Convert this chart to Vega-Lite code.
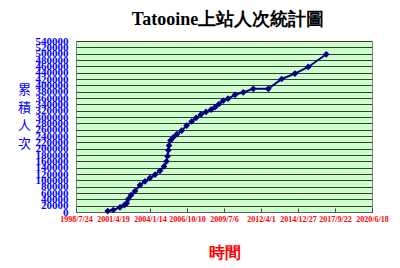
{
  "$schema": "https://vega.github.io/schema/vega-lite/v6.json",
  "autosize": {"type": "none"},
  "padding": {"left": 76, "top": 41, "right": 28, "bottom": 56},
  "width": 296,
  "height": 171,
  "background": "#ffffff",
  "title": {
    "text": "Tatooine上站人次統計圖",
    "font": "Liberation Serif",
    "fontSize": 18,
    "fontWeight": "bold",
    "color": "#000000",
    "anchor": "middle",
    "offset": 6,
    "dx": 4
  },
  "config": {
    "view": {"fill": "#ccffcc", "stroke": "#808080", "strokeWidth": 1}
  },
  "data": {
    "values": [
      {"date": "2000-11-27", "count": 3000},
      {"date": "2001-04-27", "count": 6300},
      {"date": "2001-10-25", "count": 14800},
      {"date": "2002-02-19", "count": 22000},
      {"date": "2002-04-24", "count": 28000},
      {"date": "2002-06-07", "count": 41000},
      {"date": "2002-08-19", "count": 53000},
      {"date": "2002-12-05", "count": 66000},
      {"date": "2003-04-19", "count": 85000},
      {"date": "2003-09-01", "count": 97000},
      {"date": "2004-01-14", "count": 108000},
      {"date": "2004-05-28", "count": 118000},
      {"date": "2004-10-10", "count": 130000},
      {"date": "2005-01-26", "count": 144000},
      {"date": "2005-04-04", "count": 160000},
      {"date": "2005-05-01", "count": 176000},
      {"date": "2005-05-23", "count": 195000},
      {"date": "2005-06-11", "count": 210000},
      {"date": "2005-07-21", "count": 226000},
      {"date": "2005-10-05", "count": 236000},
      {"date": "2006-01-13", "count": 246000},
      {"date": "2006-05-20", "count": 257000},
      {"date": "2006-10-02", "count": 273000},
      {"date": "2007-02-14", "count": 286000},
      {"date": "2007-06-10", "count": 297000},
      {"date": "2007-10-23", "count": 308000},
      {"date": "2008-03-07", "count": 316000},
      {"date": "2008-07-20", "count": 323000},
      {"date": "2008-11-05", "count": 331000},
      {"date": "2009-02-21", "count": 341000},
      {"date": "2009-06-17", "count": 352000},
      {"date": "2009-10-22", "count": 358000},
      {"date": "2010-04-29", "count": 370000},
      {"date": "2010-12-10", "count": 378000},
      {"date": "2011-09-06", "count": 389000},
      {"date": "2012-10-15", "count": 389000},
      {"date": "2013-10-12", "count": 420000},
      {"date": "2014-10-06", "count": 437000},
      {"date": "2015-09-30", "count": 458000},
      {"date": "2017-01-29", "count": 498000}
    ]
  },
  "mark": {
    "type": "line",
    "color": "#000080",
    "strokeWidth": 2,
    "point": {"shape": "diamond", "filled": true, "size": 45, "color": "#000080"}
  },
  "encoding": {
    "x": {
      "field": "date",
      "type": "temporal",
      "scale": {
        "type": "utc",
        "domain": [
          {"year": 1998, "month": 7, "date": 24, "utc": true},
          {"year": 2020, "month": 6, "date": 18, "utc": true}
        ],
        "nice": false
      },
      "axis": {
        "values": [
          {"year": 1998, "month": 7, "date": 24, "utc": true},
          {"year": 2001, "month": 4, "date": 19, "utc": true},
          {"year": 2004, "month": 1, "date": 14, "utc": true},
          {"year": 2006, "month": 10, "date": 10, "utc": true},
          {"year": 2009, "month": 7, "date": 6, "utc": true},
          {"year": 2012, "month": 4, "date": 1, "utc": true},
          {"year": 2014, "month": 12, "date": 27, "utc": true},
          {"year": 2017, "month": 9, "date": 22, "utc": true},
          {"year": 2020, "month": 6, "date": 18, "utc": true}
        ],
        "format": "%Y/%-m/%-d",
        "grid": false,
        "domain": true,
        "domainColor": "#606060",
        "ticks": true,
        "tickSize": -4,
        "tickColor": "#404040",
        "labelColor": "#ff0000",
        "labelFont": "Liberation Serif",
        "labelFontWeight": "bold",
        "labelFontSize": 8,
        "labelAngle": 0,
        "labelPadding": 7,
        "labelOverlap": false,
        "labelFlush": false,
        "title": "時間",
        "titleColor": "#ff0000",
        "titleFont": "Liberation Serif",
        "titleFontSize": 16,
        "titleFontWeight": "bold",
        "titleBaseline": "middle",
        "titleY": 40
      }
    },
    "y": {
      "field": "count",
      "type": "quantitative",
      "scale": {"domain": [0, 540000], "nice": false, "zero": true},
      "axis": {
        "values": [0, 20000, 40000, 60000, 80000, 100000, 120000, 140000, 160000, 180000, 200000, 220000, 240000, 260000, 280000, 300000, 320000, 340000, 360000, 380000, 400000, 420000, 440000, 460000, 480000, 500000, 520000, 540000],
        "format": "d",
        "grid": true,
        "gridColor": "#3a3a3a",
        "gridWidth": 1,
        "gridOpacity": 1,
        "domain": false,
        "ticks": false,
        "labelColor": "#0000ff",
        "labelFont": "Liberation Serif",
        "labelFontWeight": "bold",
        "labelFontSize": 11,
        "labelPadding": 8,
        "labelOverlap": false,
        "labelBound": false,
        "labelFlush": false,
        "title": ["累", "積", "人", "次"],
        "titleColor": "#0000ff",
        "titleFont": "Noto Sans CJK TC",
        "titleFontSize": 13,
        "titleFontWeight": "normal",
        "titleAngle": 0,
        "titleAlign": "center",
        "titleBaseline": "top",
        "titleLineHeight": 18,
        "titleX": -52,
        "titleY": 42
      }
    }
  }
}
